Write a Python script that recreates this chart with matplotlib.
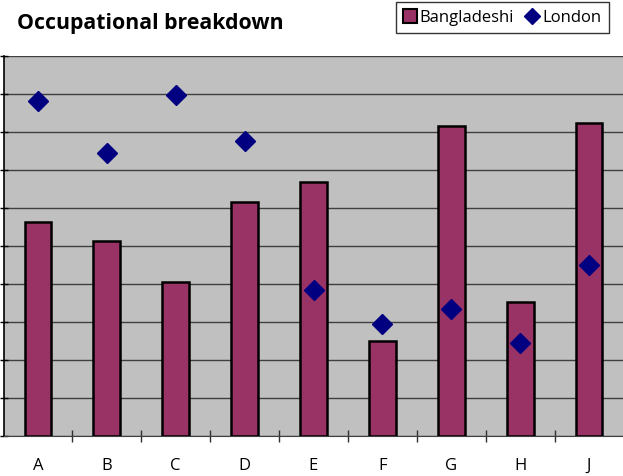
import matplotlib.pyplot as plt
from matplotlib.lines import Line2D
import numpy as np

categories = ["A", "B", "C", "D", "E", "F", "G", "H", "J"]
bangladeshi = [11.26, 10.26, 8.1, 12.32, 13.36, 5.0, 16.32, 7.06, 16.48]
london = [17.64, 14.9, 17.94, 15.52, 7.68, 5.9, 6.68, 4.9, 9.0]

fig = plt.figure(figsize=(6.23, 4.77), dpi=100)
ax = fig.add_axes([3.5 / 623, 40 / 477, 620 / 623, 380 / 477])

x = np.arange(len(categories))
ax.set_facecolor("#C0C0C0")
ax.bar(x, bangladeshi, width=0.39, color="#993366", edgecolor="black",
       linewidth=1.8, zorder=3)
ax.plot(x, london, linestyle="none", marker="D", markersize=10,
        color="#000080", zorder=4)

ax.set_xlim(-0.5, len(categories) - 0.5)
ax.set_ylim(0, 20)
ax.set_yticks(np.arange(0, 21, 2))
ax.set_yticklabels([])
ax.yaxis.grid(True, color="#404040", linewidth=1)
ax.set_axisbelow(True)

ax.set_xticks(x)
ax.set_xticklabels(categories, fontsize=12, family="Open Sans")
ax.tick_params(axis="x", length=0, pad=15)
ax.set_xticks(np.arange(0.5, len(categories) - 1, 1), minor=True)
ax.tick_params(axis="x", which="minor", direction="inout", length=8, width=1, color="#303030")
ax.tick_params(axis="y", direction="inout", length=6, width=1)

ax.spines["top"].set_visible(False)
ax.spines["right"].set_visible(False)
ax.spines["left"].set_linewidth(1.2)
ax.spines["bottom"].set_color("#404040")

fig.text(17 / 623, 1 - 23 / 477, "Occupational breakdown", fontsize=15.3,
         fontweight="bold", family="Open Sans", va="center")

handles = [
    Line2D([], [], linestyle="none", marker="s", markersize=10,
           markerfacecolor="#993366", markeredgecolor="black", markeredgewidth=1.5),
    Line2D([], [], linestyle="none", marker="D", markersize=8, color="#000080"),
]
leg = fig.legend(handles, ["Bangladeshi", "London"], loc="upper right",
                 bbox_to_anchor=(609 / 623, 1 - 3 / 477), ncol=2, frameon=True,
                 fancybox=False, edgecolor="black",
                 prop={"family": "Open Sans", "size": 12},
                 handlelength=0.8, handletextpad=0.2, columnspacing=0.7,
                 borderpad=0.45, borderaxespad=0)
leg.get_frame().set_linewidth(1)

fig.savefig("out.png", dpi=100)
